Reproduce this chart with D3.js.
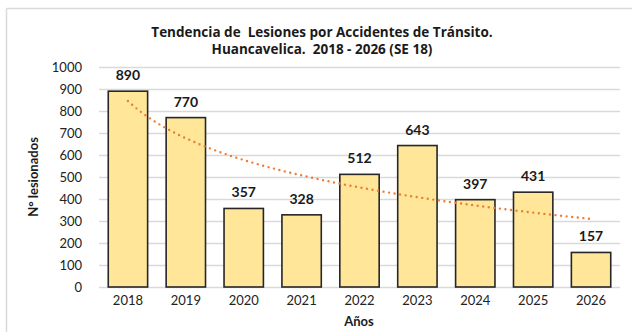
<!DOCTYPE html>
<html>
<head>
<meta charset="utf-8">
<script src="https://cdn.jsdelivr.net/npm/d3@7"></script>
<style>
  html, body { margin: 0; padding: 0; background: #fff; }
  svg { display: block; font-family: Lato, "Open Sans", sans-serif; }
</style>
</head>
<body>
<svg id="chart" width="632" height="332"></svg>
<script>
// Injured in traffic accidents, Huancavelica (SE 18 for 2026)
const years = ["2018", "2019", "2020", "2021", "2022", "2023", "2024", "2025", "2026"];
const injured = [890, 770, 357, 328, 512, 643, 397, 431, 157];
const yTicks = [0, 100, 200, 300, 400, 500, 600, 700, 800, 900, 1000];
const titleLines = ["Tendencia de  Lesiones por Accidentes de Tránsito.", "Huancavelica.  2018 - 2026 (SE 18)"];

const svg = d3.select("#chart");
const W = 632, H = 332;
const plot = { left: 99, right: 620, top: 67, bottom: 287 };

// outer frame (top and left edges)
svg.append("line").attr("x1", 6.5).attr("x2", W).attr("y1", 8.5).attr("y2", 8.5)
  .attr("stroke", "#d9d9d9").attr("stroke-width", 1.5);
svg.append("line").attr("x1", 6.5).attr("x2", 6.5).attr("y1", 8.5).attr("y2", H)
  .attr("stroke", "#d9d9d9").attr("stroke-width", 1.5);

const x = d3.scaleBand().domain(years).range([plot.left, plot.right]).paddingInner(0.32).paddingOuter(0.16);
const y = d3.scaleLinear().domain([0, 1000]).range([plot.bottom, plot.top]);

// gridlines
svg.append("g").selectAll("line").data(yTicks).join("line")
  .attr("x1", plot.left).attr("x2", plot.right)
  .attr("y1", d => Math.round(y(d)) + 0.5).attr("y2", d => Math.round(y(d)) + 0.5)
  .attr("stroke", "#d9d9d9").attr("stroke-width", 1.3);

// y axis labels
const yAxis = d3.axisLeft(y).tickValues(yTicks).tickFormat(d3.format("d")).tickSize(0).tickPadding(0);
const gy = svg.append("g").attr("transform", `translate(${plot.left - 17},0)`).call(yAxis);
gy.select(".domain").remove();
gy.selectAll("text").attr("font-size", 13).attr("fill", "#222").attr("font-family", "Lato, sans-serif");

// x axis labels
const xAxis = d3.axisBottom(x).tickSize(0).tickPadding(0);
const gx = svg.append("g").attr("transform", `translate(0,${plot.bottom + 9})`).call(xAxis);
gx.select(".domain").remove();
gx.selectAll("text").attr("font-size", 13).attr("fill", "#222").attr("font-family", "Lato, sans-serif");

// bars
svg.append("g").selectAll("rect").data(injured).join("rect")
  .attr("x", (d, i) => x(years[i]))
  .attr("y", d => y(d))
  .attr("width", x.bandwidth())
  .attr("height", d => y(0) - y(d))
  .attr("fill", "#ffe699")
  .attr("stroke", "#262626")
  .attr("stroke-width", 1.6);

// value labels
svg.append("g").selectAll("text").data(injured).join("text")
  .attr("x", (d, i) => x(years[i]) + x.bandwidth() / 2)
  .attr("y", d => y(d) - 11)
  .attr("text-anchor", "middle")
  .attr("font-size", 14).attr("font-weight", "bold").attr("fill", "#1a1a1a")
  .text(d => d);

// logarithmic trendline: least squares on ln(index)
const lx = injured.map((d, i) => Math.log(i + 1));
const mx = d3.mean(lx), my = d3.mean(injured);
const b = d3.sum(lx, (v, i) => (v - mx) * (injured[i] - my)) / d3.sum(lx, v => (v - mx) ** 2);
const a = my - b * mx;
const trend = years.flatMap((yr, i) => {
  if (i === years.length - 1) return [[i + 1, a + b * Math.log(i + 1)]];
  const pts = [];
  for (let k = 0; k < 10; k++) { const t = i + 1 + k / 10; pts.push([t, a + b * Math.log(t)]); }
  return pts;
});
const xc = t => x(years[0]) + x.bandwidth() / 2 + (t - 1) * x.step();
svg.append("path")
  .attr("d", d3.line().x(p => xc(p[0])).y(p => y(p[1])).curve(d3.curveLinear)(trend))
  .attr("fill", "none").attr("stroke", "#ed7d31").attr("stroke-width", 2.4)
  .attr("stroke-dasharray", "0 5.6").attr("stroke-linecap", "round");

// title
svg.append("g").selectAll("text").data(titleLines).join("text")
  .attr("x", 322).attr("y", (d, i) => 37 + i * 17)
  .attr("text-anchor", "middle").attr("font-size", 13.5).attr("font-weight", "bold").attr("fill", "#1a1a1a")
  .attr("font-family", "'Open Sans', sans-serif")
  .attr("xml:space", "preserve").style("white-space", "pre")
  .text(d => d);

// axis titles
svg.append("text").attr("x", 359).attr("y", 326).attr("text-anchor", "middle")
  .attr("font-size", 13).attr("font-weight", "bold").attr("fill", "#1a1a1a").text("Años");
svg.append("text").attr("transform", `translate(38,177) rotate(-90)`).attr("text-anchor", "middle")
  .attr("font-size", 13).attr("font-weight", "bold").attr("fill", "#1a1a1a").text("N° lesionados");
</script>
</body>
</html>
